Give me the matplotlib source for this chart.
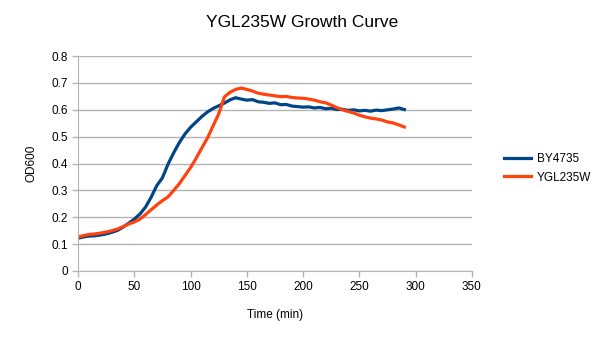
import numpy as np
import matplotlib
matplotlib.use("Agg")
import matplotlib.pyplot as plt

plt.rcParams['font.family'] = ['Liberation Sans', 'DejaVu Sans']

# time points (min), one reading every 5 min
time_min = np.arange(0, 291, 5)

# OD600 readings
by4735 = [0.122, 0.127, 0.130, 0.131, 0.134, 0.138, 0.144, 0.151, 0.163, 0.178,
          0.193, 0.212, 0.238, 0.275, 0.318, 0.347, 0.398, 0.440, 0.478, 0.510,
          0.535, 0.555, 0.575, 0.592, 0.605, 0.615, 0.625, 0.637, 0.645, 0.640,
          0.636, 0.638, 0.630, 0.628, 0.624, 0.626, 0.619, 0.620, 0.614, 0.612,
          0.610, 0.611, 0.607, 0.609, 0.604, 0.606, 0.601, 0.602, 0.598, 0.600,
          0.596, 0.598, 0.595, 0.599, 0.597, 0.600, 0.603, 0.607, 0.601]
ygl235w = [0.127, 0.132, 0.136, 0.138, 0.141, 0.145, 0.150, 0.156, 0.165, 0.175,
           0.182, 0.193, 0.210, 0.228, 0.246, 0.262, 0.276, 0.300, 0.325, 0.355,
           0.385, 0.420, 0.458, 0.495, 0.540, 0.585, 0.648, 0.665, 0.676, 0.681,
           0.676, 0.670, 0.662, 0.658, 0.655, 0.652, 0.649, 0.650, 0.646, 0.644,
           0.643, 0.640, 0.636, 0.630, 0.626, 0.618, 0.608, 0.600, 0.594, 0.588,
           0.580, 0.574, 0.569, 0.566, 0.562, 0.555, 0.551, 0.544, 0.536]

grid_col = '#b3b3b3'

fig = plt.figure(figsize=(6.05, 3.4), dpi=100)
ax = fig.add_axes([0.129, 0.203, 0.651, 0.632])

ax.plot(time_min, by4735, color='#004586', linewidth=2.3, label='BY4735')
ax.plot(time_min, ygl235w, color='#ff420e', linewidth=2.3, label='YGL235W')

ax.set_xlim(0, 350)
ax.set_ylim(0, 0.8)
ax.set_xticks(np.arange(0, 351, 50))
ax.set_yticks(np.arange(0, 0.81, 0.1))
ax.set_yticklabels(['0', '0.1', '0.2', '0.3', '0.4', '0.5', '0.6', '0.7', '0.8'])
ax.yaxis.grid(True, color=grid_col, linewidth=1)
ax.set_axisbelow(True)

for side in ['top', 'right']:
    ax.spines[side].set_visible(False)
for side in ['left', 'bottom']:
    ax.spines[side].set_color(grid_col)
ax.tick_params(colors=grid_col, labelcolor='black', labelsize=8.5,
               length=4, width=1)

ax.set_xlabel('Time (min)', fontsize=8.5, labelpad=11)
ax.set_ylabel('OD600', fontsize=8.5, labelpad=10)
fig.suptitle('YGL235W Growth Curve', fontsize=12.5, x=0.5, y=0.935, va='center')

fig.legend(loc='center left', bbox_to_anchor=(0.815, 0.505), frameon=False,
           fontsize=8.5, handlelength=2.3, handletextpad=0.5, labelspacing=0.55)

fig.savefig('out.png', dpi=100)
